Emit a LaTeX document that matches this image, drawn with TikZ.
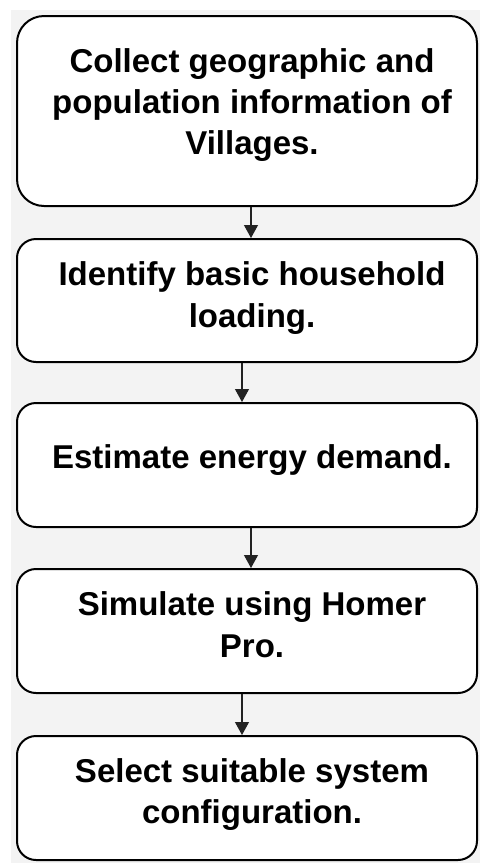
\documentclass[tikz,border=0pt]{standalone}
\usepackage{fontspec}
\setmainfont{Liberation Sans}
\usetikzlibrary{arrows.meta,calc}
\definecolor{bggray}{HTML}{F3F3F3}
\definecolor{linegray}{HTML}{222222}
\begin{document}
\begin{tikzpicture}[x=1pt,y=-1pt,
  stepbox/.style={draw=black, line width=2pt, fill=white, inner sep=0pt, minimum width=460pt},
  steptext/.style={font=\fontsize{33}{41}\selectfont\bfseries, anchor=base, inner sep=0pt},
  arr/.style={draw=linegray, line width=1.1pt, -{Triangle[width=14pt,length=13pt]}}]
\useasboundingbox (0,0) rectangle (480,863);
\fill[bggray] (11,10) rectangle (480,863);
% boxes
\node[stepbox, rounded corners=27pt, minimum height=190pt] (b1) at (247,111) {};
\node[stepbox, rounded corners=19pt, minimum height=123pt] (b2) at (247,300.5) {};
\node[stepbox, rounded corners=19pt, minimum height=124pt] (b3) at (247,465) {};
\node[stepbox, rounded corners=19pt, minimum height=124pt] (b4) at (247,631) {};
\node[stepbox, rounded corners=19pt, minimum height=124pt] (b5) at (247,798) {};
% texts
\node[steptext] (t1a) at (252,72) {Collect geographic and};
\node[steptext] (t1b) at (252,113) {population information of};
\node[steptext] (t1c) at (252,154) {Villages.};
\node[steptext] (t2a) at (252,285) {Identify basic household};
\node[steptext] (t2b) at (252,327) {loading.};
\node[steptext] (t3a) at (252,468) {Estimate energy demand.};
\node[steptext] (t4a) at (252,615) {Simulate using Homer};
\node[steptext] (t4b) at (252,657) {Pro.};
\node[steptext] (t5a) at (252,782) {Select suitable system};
\node[steptext] (t5b) at (252,823) {configuration.};
% connectors
\draw[arr] ([xshift=4pt]b1.south) -- ([xshift=4pt]b2.north);
\draw[arr] ([xshift=-5pt]b2.south) -- ([xshift=-5pt]b3.north);
\draw[arr] ([xshift=4pt]b3.south) -- ([xshift=4pt]b4.north);
\draw[arr] ([xshift=-5pt]b4.south) -- ([xshift=-5pt]b5.north);
\end{tikzpicture}
\end{document}
